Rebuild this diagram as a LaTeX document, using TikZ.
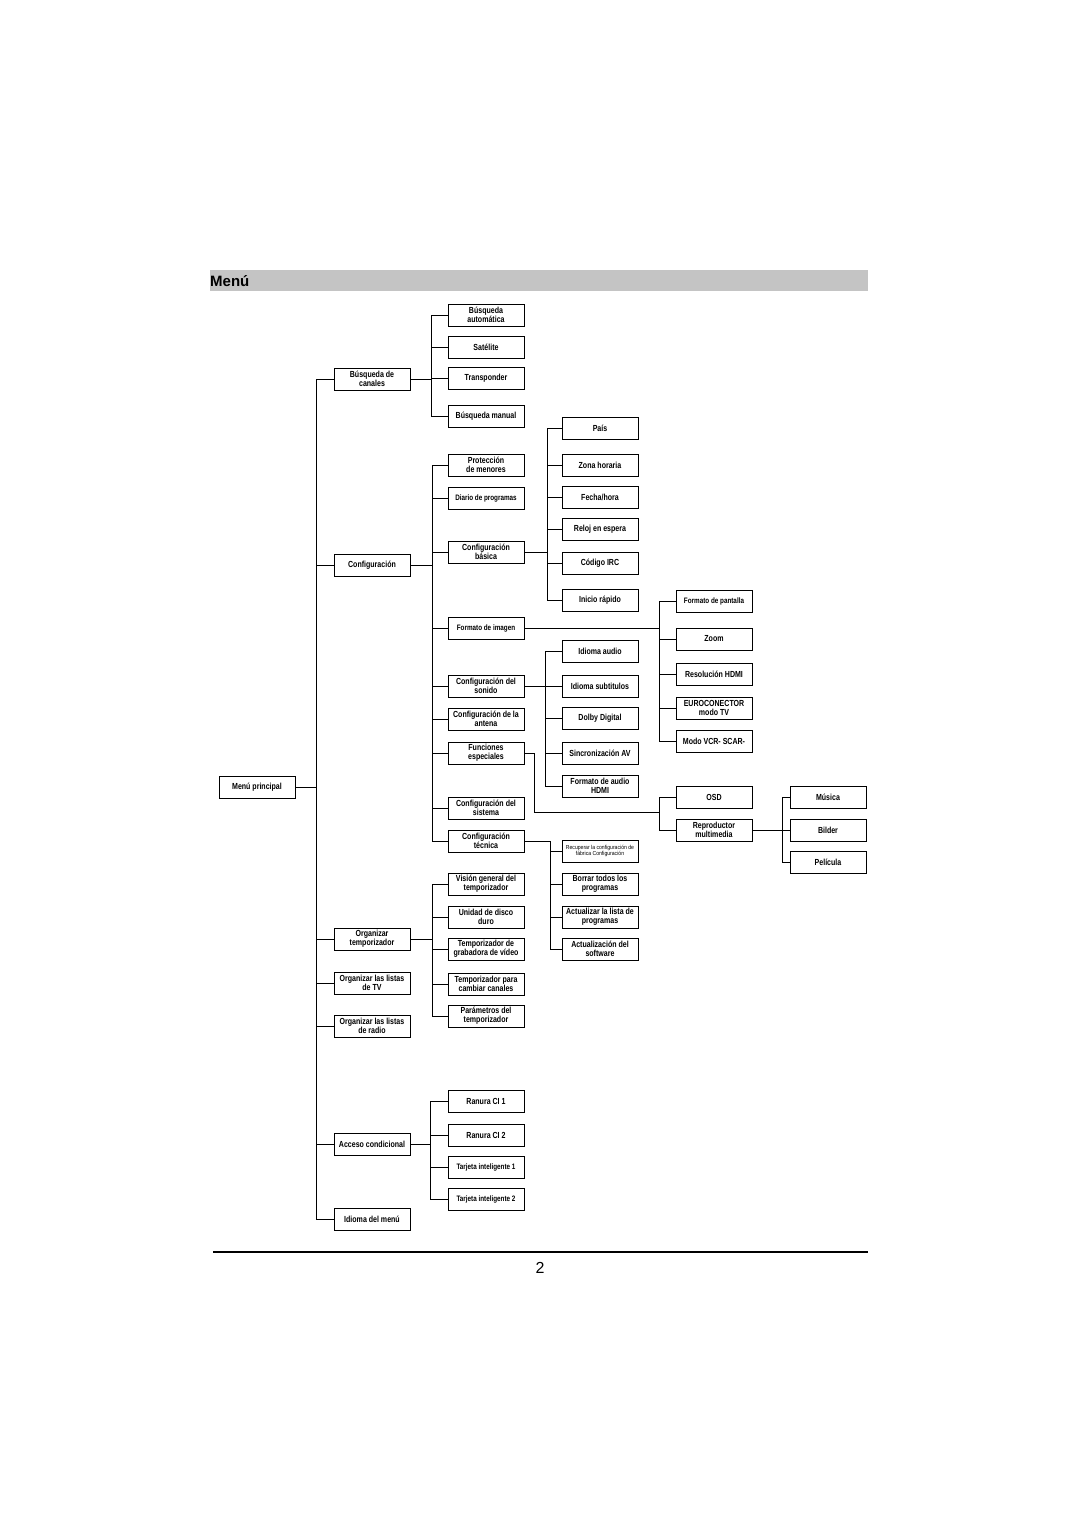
\documentclass[tikz,border=0pt]{standalone}
\usepackage{fontspec}
\setmainfont{Liberation Sans}
\newfontfamily\boxfont[FakeStretch=0.8]{Liberation Sans}
\newfontfamily\tinyfont[FakeStretch=0.88]{Liberation Sans}
\usetikzlibrary{shadows}

\tikzset{
  box/.style={draw, line width=0.9pt, fill=white, minimum width=76pt, minimum height=22pt,
    inner sep=1pt, align=center, font=\boxfont\bfseries\fontsize{8.8}{9.2}\selectfont,
    drop shadow={shadow xshift=1pt, shadow yshift=-1pt, fill=black, opacity=1}},
  smallbox/.style={box, font=\boxfont\bfseries\fontsize{7.9}{8.4}\selectfont},
  tinybox/.style={box, font=\tinyfont\fontsize{5.8}{6.4}\selectfont},
  link/.style={line width=0.8pt}
}

\begin{document}
\begin{tikzpicture}[x=1pt, y=-1pt]
                \useasboundingbox (0,0) rectangle (1080,1527);

                % titel
                \fill[black!23] (210,270) rectangle (868,291);
                \node[anchor=west, inner sep=1pt, font=\bfseries\fontsize{15}{16}\selectfont] (titel) at (209,281) {Menú};

                % hoofdmenu en eerste niveau
                \node[box] (mp) at (257,787) {Menú principal};
                \node[box] (bc) at (372,379) {Búsqueda de\\canales};
                \node[box] (cf) at (372,565) {Configuración};
                \node[box] (ot) at (372,939) {Organizar\\temporizador};
                \node[box] (ltv) at (372,983) {Organizar las listas\\de TV};
                \node[box] (lra) at (372,1026) {Organizar las listas\\de radio};
                \node[box] (ac) at (372,1144) {Acceso condicional};
                \node[box] (idm) at (372,1219) {Idioma del menú};

                \coordinate (stam) at (316,787);
                \draw[link] (mp.east) -- (stam);
                \draw[link] (bc.west) -- (bc.west -| stam) -- (idm.west -| stam) -- (idm.west);
                \draw[link] (cf.west) -- (cf.west -| stam);
                \draw[link] (ot.west) -- (ot.west -| stam);
                \draw[link] (ltv.west) -- (ltv.west -| stam);
                \draw[link] (lra.west) -- (lra.west -| stam);
                \draw[link] (ac.west) -- (ac.west -| stam);

                % busqueda de canales
                \node[box] (ba) at (486,315) {Búsqueda\\automática};
                \node[box] (sat) at (486,347) {Satélite};
                \node[box] (tr) at (486,378) {Transponder};
                \node[box] (bm) at (486,416) {Búsqueda manual};
                \coordinate (bj) at (431,379);
                \draw[link] (bc.east) -- (bj);
                \draw[link] (ba.west) -- (ba.west -| bj) -- (bm.west -| bj) -- (bm.west);
                \draw[link] (sat.west) -- (sat.west -| bj);
                \draw[link] (tr.west) -- (tr.west -| bj);

                % configuracion
                \node[box] (pm) at (486,465) {Protección\\de menores};
                \node[smallbox] (dp) at (486,498) {Diario de programas};
                \node[box] (cb) at (486,552) {Configuración\\básica};
                \node[smallbox] (fi) at (486,628) {Formato de imagen};
                \node[box] (cs) at (486,686) {Configuración del\\sonido};
                \node[box] (ca) at (486,719) {Configuración de la\\antena};
                \node[box] (fe) at (486,753) {Funciones\\especiales};
                \node[box] (csi) at (486,808) {Configuración del\\sistema};
                \node[box] (ct) at (486,841) {Configuración\\técnica};
                \coordinate (cj) at (432,565);
                \draw[link] (cf.east) -- (cj);
                \draw[link] (pm.west) -- (pm.west -| cj) -- (ct.west -| cj) -- (ct.west);
                \draw[link] (dp.west) -- (dp.west -| cj);
                \draw[link] (cb.west) -- (cb.west -| cj);
                \draw[link] (fi.west) -- (fi.west -| cj);
                \draw[link] (cs.west) -- (cs.west -| cj);
                \draw[link] (ca.west) -- (ca.west -| cj);
                \draw[link] (fe.west) -- (fe.west -| cj);
                \draw[link] (csi.west) -- (csi.west -| cj);

                % configuracion basica
                \node[box] (pais) at (600,428) {País};
                \node[box] (zh) at (600,465) {Zona horaria};
                \node[box] (fh) at (600,497) {Fecha/hora};
                \node[box] (re) at (600,529) {Reloj en espera};
                \node[box] (irc) at (600,563) {Código IRC};
                \node[box] (ir) at (600,600) {Inicio rápido};
                \coordinate (bsj) at (547,552);
                \draw[link] (cb.east) -- (bsj);
                \draw[link] (pais.west) -- (pais.west -| bsj) -- (ir.west -| bsj) -- (ir.west);
                \draw[link] (zh.west) -- (zh.west -| bsj);
                \draw[link] (fh.west) -- (fh.west -| bsj);
                \draw[link] (re.west) -- (re.west -| bsj);
                \draw[link] (irc.west) -- (irc.west -| bsj);

                % formato de imagen
                \node[smallbox] (fp) at (714,601) {Formato de pantalla};
                \node[box] (zoom) at (714,639) {Zoom};
                \node[box] (rh) at (714,674) {Resolución HDMI};
                \node[box] (eur) at (714,708) {EUROCONECTOR\\modo TV};
                \node[box] (vcr) at (714,741) {Modo VCR- SCAR-};
                \coordinate (pj) at (659,628);
                \draw[link] (fi.east) -- (pj);
                \draw[link] (fp.west) -- (fp.west -| pj) -- (vcr.west -| pj) -- (vcr.west);
                \draw[link] (zoom.west) -- (zoom.west -| pj);
                \draw[link] (rh.west) -- (rh.west -| pj);
                \draw[link] (eur.west) -- (eur.west -| pj);

                % sonido
                \node[box] (ia) at (600,651) {Idioma audio};
                \node[box] (ist) at (600,686) {Idioma subtitulos};
                \node[box] (dd) at (600,718) {Dolby Digital};
                \node[box] (sav) at (600,753) {Sincronización AV};
                \node[box] (fah) at (600,786) {Formato de audio\\HDMI};
                \coordinate (sj) at (545,686);
                \draw[link] (cs.east) -- (ist.west);
                \draw[link] (ia.west) -- (ia.west -| sj) -- (fah.west -| sj) -- (fah.west);
                \draw[link] (dd.west) -- (dd.west -| sj);
                \draw[link] (sav.west) -- (sav.west -| sj);

                % funciones especiales
                \node[box] (osd) at (714,797) {OSD};
                \node[box] (rm) at (714,830) {Reproductor\\multimedia};
                \coordinate (fj) at (659,812);
                \draw[link] (fe.east) -- ++(10,0) |- (fj);
                \draw[link] (osd.west) -- (osd.west -| fj) -- (rm.west -| fj) -- (rm.west);

                % reproductor multimedia
                \node[box] (mus) at (828,797) {Música};
                \node[box] (bil) at (828,830) {Bilder};
                \node[box] (pel) at (828,862) {Película};
                \coordinate (rj) at (782,830);
                \draw[link] (rm.east) -- (bil.west);
                \draw[link] (mus.west) -- (mus.west -| rj) -- (pel.west -| rj) -- (pel.west);

                % configuracion tecnica
                \node[tinybox] (rec) at (600,851) {Recuperar la configuración de\\fábrica Configuración};
                \node[box] (bp) at (600,884) {Borrar todos los\\programas};
                \node[box] (alp) at (600,917) {Actualizar la lista de\\programas};
                \node[box] (asw) at (600,949) {Actualización del\\software};
                \coordinate (tj) at (550,841);
                \draw[link] (ct.east) -- (tj) -- (tj |- asw.west) -- (asw.west);
                \draw[link] (rec.west) -- (rec.west -| tj);
                \draw[link] (bp.west) -- (bp.west -| tj);
                \draw[link] (alp.west) -- (alp.west -| tj);

                % organizar temporizador
                \node[box] (vg) at (486,884) {Visión general del\\temporizador};
                \node[box] (udd) at (486,917) {Unidad de disco\\duro};
                \node[box] (tgv) at (486,949) {Temporizador de\\grabadora de vídeo};
                \node[box] (tcc) at (486,984) {Temporizador para\\cambiar canales};
                \node[box] (pt) at (486,1016) {Parámetros del\\temporizador};
                \coordinate (oj) at (432,939);
                \draw[link] (ot.east) -- (oj);
                \draw[link] (vg.west) -- (vg.west -| oj) -- (pt.west -| oj) -- (pt.west);
                \draw[link] (udd.west) -- (udd.west -| oj);
                \draw[link] (tgv.west) -- (tgv.west -| oj);
                \draw[link] (tcc.west) -- (tcc.west -| oj);

                % acceso condicional
                \node[box] (ci1) at (486,1101) {Ranura CI 1};
                \node[box] (ci2) at (486,1135) {Ranura CI 2};
                \node[smallbox] (ti1) at (486,1167) {Tarjeta inteligente 1};
                \node[smallbox] (ti2) at (486,1199) {Tarjeta inteligente 2};
                \coordinate (aj) at (430,1144);
                \draw[link] (ac.east) -- (aj);
                \draw[link] (ci1.west) -- (ci1.west -| aj) -- (ti2.west -| aj) -- (ti2.west);
                \draw[link] (ci2.west) -- (ci2.west -| aj);
                \draw[link] (ti1.west) -- (ti1.west -| aj);

                % voet
                \draw[line width=1.5pt] (213,1252) -- (868,1252);
                \node[font=\fontsize{16}{17}\selectfont] (pagina) at (540,1268) {2};
            \end{tikzpicture}
\end{document}
